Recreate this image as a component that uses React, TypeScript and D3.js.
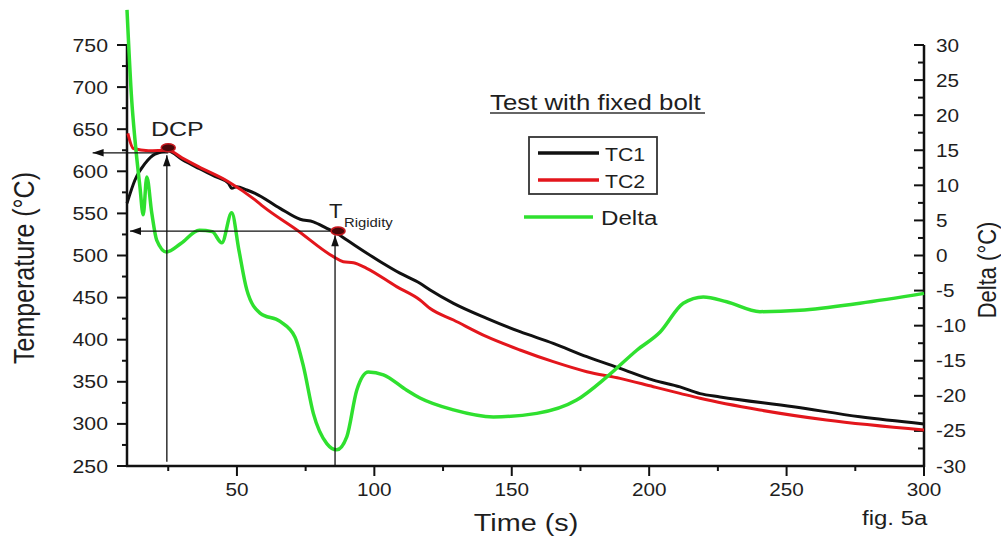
import React, { useEffect, useRef } from 'react';
import * as d3 from 'd3';

// TC1 (black) — time (s) / temperature (°C)
const tc1Time = [10, 12.9, 16.6, 20.2, 25, 30, 36, 42, 46.9, 48.1, 49.9, 53.6, 56.6, 65.7, 73, 77.8, 82.7, 86, 90, 102.5, 109.3, 116.6, 120.3, 128.8, 140.9, 153, 165.1, 177.3, 189.4, 201.5, 211.2, 218.5, 225.8, 252.5, 276.7, 300];
const tc1Temp = [562, 589.7, 609.5, 620.5, 624, 614, 603.6, 594, 585.8, 579.8, 581.7, 577.8, 573.9, 556, 543, 540, 532.3, 527, 518.4, 492, 479, 467, 459, 443.2, 425.4, 409.5, 395.7, 379.8, 366, 352, 344, 336, 332, 320.4, 308.5, 300];

// TC2 (red)
const tc2Time = [10.3, 12.3, 17.8, 25, 30, 36, 46.9, 56.6, 59.6, 71.8, 85.1, 88.7, 92.4, 97.2, 108.1, 116.6, 120.3, 128.8, 140.9, 153, 165.1, 177.3, 189.4, 201.5, 211.2, 218.5, 240.3, 264.5, 300];
const tc2Temp = [645, 627, 624.5, 625, 616, 605.5, 587.6, 566, 558, 530.3, 498.6, 492.6, 491.4, 484.8, 463, 447.2, 437, 423.4, 403.6, 387.8, 373.9, 362, 354.1, 344.2, 336.3, 330.4, 316.5, 304.6, 292.8];

// Delta (green) — right axis
const deltaTime = [10, 11.7, 12.9, 14.7, 15.9, 17.2, 19, 20.8, 24.4, 29.6, 36.3, 41, 44.5, 48.1, 50.7, 53.6, 58.4, 65.7, 71.1, 74.2, 77.8, 82.7, 86.3, 90, 93.6, 97.8, 103.3, 111.8, 116.6, 128.8, 143.3, 159.1, 173.6, 184.6, 195.5, 204, 212.4, 219.7, 228.2, 240.3, 254.9, 276.7, 300];
const deltaVal = [35, 22.2, 16.5, 9.8, 5.8, 11.2, 6.1, 2.2, 0.5, 1.7, 3.6, 3.4, 1.8, 6.1, 0.8, -4.9, -8.2, -9.4, -11.6, -15.8, -22.5, -26.8, -27.7, -25.8, -19.2, -16.6, -17, -19.2, -20.3, -22, -23, -22.5, -20.6, -17.3, -13.5, -10.9, -6.8, -5.9, -6.6, -8, -7.8, -6.8, -5.4];

const timeTicks = [50, 100, 150, 200, 250, 300];
const timeMinor = [25, 75, 125, 175, 225, 275];
const tempTicks = [250, 300, 350, 400, 450, 500, 550, 600, 650, 700, 750];
const deltaTicks = [-30, -25, -20, -15, -10, -5, 0, 5, 10, 15, 20, 25, 30];

// annotations (time, temperature)
const dcpPoint = [25, 628];
const rigidityPoint = [86.8, 529];
const arrows = [
  { from: [25, 622], to: [-2.5, 622] },
  { from: [24.5, 255], to: [24.5, 619] },
  { from: [86.8, 529], to: [11.1, 529] },
  { from: [85.7, 250], to: [85.7, 524] },
];

const FONT = '"Liberation Sans", Arial, sans-serif';

const App = () => {
  const svgRef = useRef<SVGSVGElement>(null);

  useEffect(() => {
    const svg = d3.select(svgRef.current);
    svg.selectAll('*').remove();

    const x = d3.scaleLinear().domain([10, 300]).range([127, 924]);
    const yT = d3.scaleLinear().domain([250, 750]).range([466, 45]);
    const yD = d3.scaleLinear().domain([-30, 30]).range([466, 45]);

    // stretched text, the reference lettering is wider than plain Arial
    const text = (str: string, tx: number, ty: number, size: number, o: any = {}) => {
      const s = o.stretch ?? 1.2;
      return svg.append('text')
        .attr('transform', o.rotate
          ? `translate(${tx},${ty}) rotate(-90) scale(1,${s})`
          : `translate(${tx},${ty}) scale(${s},1)`)
        .attr('text-anchor', o.anchor || 'start')
        .attr('font-family', FONT)
        .attr('font-size', size)
        .attr('fill', o.fill || '#1e1e1e')
        .text(str);
    };

    const axisColor = '#111';

    // left axis
    svg.append('line').attr('x1', 127).attr('x2', 127).attr('y1', 45).attr('y2', 467)
      .attr('stroke', axisColor).attr('stroke-width', 2.5);
    tempTicks.forEach(v => {
      svg.append('line').attr('x1', 117).attr('x2', 127).attr('y1', yT(v)).attr('y2', yT(v))
        .attr('stroke', axisColor).attr('stroke-width', 2);
      text(String(v), 108, yT(v) + 6.5, 18.5, { anchor: 'end', stretch: 1.15 });
    });
    tempTicks.slice(1).forEach(v => {
      const m = v - 25;
      svg.append('line').attr('x1', 122).attr('x2', 127).attr('y1', yT(m)).attr('y2', yT(m))
        .attr('stroke', axisColor).attr('stroke-width', 2);
    });

    // right axis (ticks point inward)
    svg.append('line').attr('x1', 924).attr('x2', 924).attr('y1', 45).attr('y2', 467)
      .attr('stroke', axisColor).attr('stroke-width', 2.5);
    deltaTicks.forEach(v => {
      svg.append('line').attr('x1', 914).attr('x2', 924).attr('y1', yD(v)).attr('y2', yD(v))
        .attr('stroke', axisColor).attr('stroke-width', 2);
      text(String(v), 936, yD(v) + 6.5, 18.5, { stretch: 1.12 });
    });
    deltaTicks.slice(1).forEach(v => {
      const m = v - 2.5;
      svg.append('line').attr('x1', 918).attr('x2', 924).attr('y1', yD(m)).attr('y2', yD(m))
        .attr('stroke', axisColor).attr('stroke-width', 2);
    });

    // bottom axis
    svg.append('line').attr('x1', 126).attr('x2', 925).attr('y1', 466).attr('y2', 466)
      .attr('stroke', axisColor).attr('stroke-width', 2.5);
    timeTicks.forEach(v => {
      svg.append('line').attr('x1', x(v)).attr('x2', x(v)).attr('y1', 466).attr('y2', 476)
        .attr('stroke', axisColor).attr('stroke-width', 2);
      text(String(v), x(v), 496, 18.5, { anchor: 'middle', stretch: 1.12 });
    });
    timeMinor.forEach(v => {
      svg.append('line').attr('x1', x(v)).attr('x2', x(v)).attr('y1', 466).attr('y2', 471)
        .attr('stroke', axisColor).attr('stroke-width', 2);
    });

    // axis titles
    text('Temperature (°C)', 34, 268, 25, { anchor: 'middle', rotate: true, stretch: 1.15 });
    text('Delta (°C)', 996, 270, 22, { anchor: 'middle', rotate: true, stretch: 1.15 });
    text('Time (s)', 526, 531, 24, { anchor: 'middle' });
    text('fig. 5a', 862, 525, 20);

    // curves
    const line = d3.line<[number, number]>().curve(d3.curveMonotoneX);
    const tc1 = tc1Time.map((t, i) => [x(t), yT(tc1Temp[i])] as [number, number]);
    const tc2 = tc2Time.map((t, i) => [x(t), yT(tc2Temp[i])] as [number, number]);
    const dl = deltaTime.map((t, i) => [x(t), yD(deltaVal[i])] as [number, number]);
    svg.append('path').attr('d', line(tc1)).attr('fill', 'none').attr('stroke', '#111').attr('stroke-width', 3).attr('stroke-linejoin', 'round');
    svg.append('path').attr('d', line(tc2)).attr('fill', 'none').attr('stroke', '#e3161c').attr('stroke-width', 3).attr('stroke-linejoin', 'round');
    svg.append('path').attr('d', line(dl)).attr('fill', 'none').attr('stroke', '#2fe02f').attr('stroke-width', 3.5).attr('stroke-linejoin', 'round');

    // arrows
    arrows.forEach(a => {
      const x1 = x(a.from[0]), y1 = yT(a.from[1]);
      const x2 = x(a.to[0]), y2 = yT(a.to[1]);
      svg.append('line').attr('x1', x1).attr('y1', y1).attr('x2', x2).attr('y2', y2)
        .attr('stroke', '#111').attr('stroke-width', 1.3);
      const ang = Math.atan2(y2 - y1, x2 - x1);
      const L = 11, W = 3.8;
      const bx = x2 - L * Math.cos(ang), by = y2 - L * Math.sin(ang);
      const px = -Math.sin(ang) * W, py = Math.cos(ang) * W;
      svg.append('polygon')
        .attr('points', `${x2},${y2} ${bx + px},${by + py} ${bx - px},${by - py}`)
        .attr('fill', '#111');
    });

    // markers
    [dcpPoint, rigidityPoint].forEach(p => {
      svg.append('ellipse').attr('cx', x(p[0])).attr('cy', yT(p[1])).attr('rx', 7).attr('ry', 4)
        .attr('fill', '#4a080a').attr('stroke', '#c8181e').attr('stroke-width', 1.5);
    });

    text('DCP', 151, 136, 20.5, { stretch: 1.22 });
    text('T', 329, 218, 21, { stretch: 1.05 });
    text('Rigidity', 344, 227, 13.5, { stretch: 1.1 });

    // title + legend
    text('Test with fixed bolt', 490, 110, 21.5, { stretch: 1.2 });
    svg.append('line').attr('x1', 490).attr('x2', 705).attr('y1', 113).attr('y2', 113)
      .attr('stroke', '#333').attr('stroke-width', 1.5);

    svg.append('rect').attr('x', 529).attr('y', 137).attr('width', 128).attr('height', 57)
      .attr('fill', 'none').attr('stroke', '#333').attr('stroke-width', 1.8);
    const legend = [
      { label: 'TC1', color: '#111', y: 153, x1: 538, x2: 599, tx: 605, size: 18.5 },
      { label: 'TC2', color: '#e3161c', y: 180, x1: 538, x2: 599, tx: 605, size: 18.5 },
      { label: 'Delta', color: '#2fe02f', y: 217, x1: 524, x2: 593, tx: 601, size: 21 },
    ];
    legend.forEach(l => {
      svg.append('line').attr('x1', l.x1).attr('x2', l.x2).attr('y1', l.y).attr('y2', l.y)
        .attr('stroke', l.color).attr('stroke-width', 3.5);
      text(l.label, l.tx, l.y + 7.5, l.size, { stretch: 1.15 });
    });
  }, []);

  return (
    <svg
      ref={svgRef}
      width={1001}
      height={540}
      style={{ position: 'absolute', left: 0, top: 0, background: '#fff', overflow: 'visible' }}
    />
  );
};

export default App;
